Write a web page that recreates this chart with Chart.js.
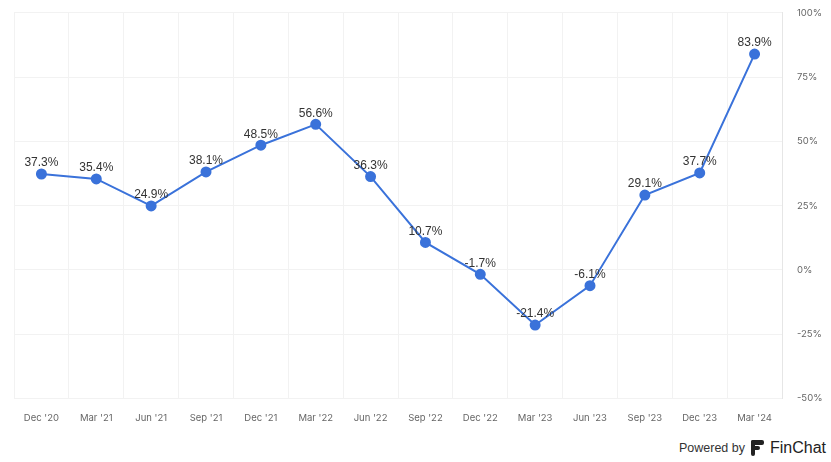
<!DOCTYPE html>
<html>
<head>
<meta charset="utf-8">
<script src="https://cdn.jsdelivr.net/npm/chart.js@4.4.1/dist/chart.umd.min.js"></script>
<style>
    html, body { margin: 0; padding: 0; background: #fff; overflow: hidden; }
    .wrap { position: relative; width: 831px; height: 462px; overflow: hidden; }
    .chart-box { position: absolute; left: 0; top: -8px; width: 831px; height: 446px; }
    .footer { position: absolute; right: 5px; top: 439px; display: flex; align-items: center; font-family: "Liberation Sans", Arial, sans-serif; color: #333; }
    .footer .pw { font-size: 12.5px; margin-right: 6px; }
    .footer .logo { width: 13px; height: 16px; margin-right: 6px; position: relative; }
    .footer .logo span { position: absolute; background: #222; border-radius: 2px; }
    .footer .fc { font-size: 16px; color: #222; }
</style>
</head>
<body>
<div class="wrap">
    <div class="chart-box"><canvas id="growthChart"></canvas></div>
    <div class="footer">
        <span class="pw">Powered by</span>
        <span class="logo">
            <span style="left:0;top:0;width:13px;height:5px;"></span>
            <span style="left:0;top:6px;width:9px;height:4px;"></span>
            <span style="left:0;top:0;width:4px;height:16px;"></span>
        </span>
        <span class="fc">FinChat</span>
    </div>
</div>
<script>
const quarters = ["Dec '20", "Mar '21", "Jun '21", "Sep '21", "Dec '21", "Mar '22", "Jun '22",
    "Sep '22", "Dec '22", "Mar '23", "Jun '23", "Sep '23", "Dec '23", "Mar '24"];
const growth = [37.3, 35.4, 24.9, 38.1, 48.5, 56.6, 36.3, 10.7, -1.7, -21.4, -6.1, 29.1, 37.7, 83.9];
const yTicks = [-50, -25, 0, 25, 50, 75, 100];

// draws the value above each point
const pointLabels = {
    id: 'pointLabels',
    afterDatasetsDraw(chart) {
        const ctx = chart.ctx;
        const meta = chart.getDatasetMeta(0);
        ctx.save();
        ctx.font = '12px "Liberation Sans", Arial, sans-serif';
        ctx.fillStyle = '#333';
        ctx.textAlign = 'center';
        ctx.textBaseline = 'bottom';
        meta.data.forEach((pt, i) => {
            ctx.fillText(growth[i].toFixed(1) + '%', pt.x, pt.y - 5);
        });
        ctx.restore();
    }
};

new Chart(document.getElementById('growthChart'), {
    type: 'line',
    data: {
        labels: quarters,
        datasets: [{
            data: growth,
            borderColor: '#3a72da',
            backgroundColor: '#3a72da',
            borderWidth: 2,
            pointRadius: 4.5,
            pointHoverRadius: 4.5,
            tension: 0
        }]
    },
    options: {
        responsive: true,
        maintainAspectRatio: false,
        animation: false,
        layout: { padding: { left: 14, top: 5, right: 0, bottom: 0 } },
        plugins: { legend: { display: false }, tooltip: { enabled: false } },
        scales: {
            x: {
                offset: true,
                grid: { offset: true, color: '#f2f2f2', drawTicks: false },
                border: { display: false },
                ticks: {
                    padding: 14,
                    maxRotation: 0,
                    autoSkip: false,
                    color: '#666',
                    font: { family: 'Inter', size: 9.5 }
                }
            },
            y: {
                position: 'right',
                min: -50,
                max: 100,
                afterBuildTicks: axis => { axis.ticks = yTicks.map(v => ({ value: v })); },
                afterFit: axis => { axis.width = 49; },
                grid: { color: '#f2f2f2', drawTicks: false },
                border: { display: true, color: '#e6e6e6' },
                ticks: {
                    padding: 15,
                    color: '#666',
                    font: { family: 'Inter', size: 9.5 },
                    callback: v => v + '%'
                }
            }
        }
    },
    plugins: [pointLabels]
});
</script>
</body>
</html>
